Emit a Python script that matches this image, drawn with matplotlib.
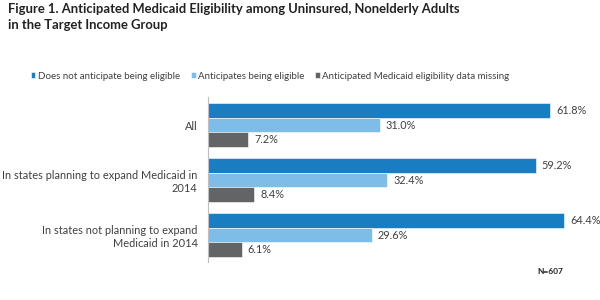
import matplotlib
matplotlib.use("Agg")
import matplotlib.pyplot as plt
import numpy as np

plt.rcParams['font.family'] = ['Lato', 'DejaVu Sans']

categories = ["All",
              "In states planning to expand Medicaid in\n2014",
              "In states not planning to expand\nMedicaid in 2014"]
series_names = ["Does not anticipate being eligible",
                "Anticipates being eligible",
                "Anticipated Medicaid eligibility data missing"]
not_eligible = [61.8, 59.2, 64.4]
eligible = [31.0, 32.4, 29.6]
missing = [7.2, 8.4, 6.1]
colors = ["#1a7dc2", "#7dbde8", "#636466"]

fig = plt.figure(figsize=(6, 3), dpi=100)
ax = fig.add_axes([208/600, 38/300, 387.4/600, 165/300])

y = np.arange(len(categories))
h = 0.267
for i, (vals, c, name) in enumerate(zip([not_eligible, eligible, missing], colors, series_names)):
    pos = y + (i - 1) * h
    ax.barh(pos, vals, height=h, color=c, label=name, edgecolor='white', linewidth=0.4)
    for p, v in zip(pos, vals):
        ax.text(v + 1.1, p, f"{v:.1f}%", va='center', ha='left', fontsize=7.8, color='#404040')

ax.set_xlim(0, 70)
ax.set_ylim(2.49, -0.51)
ax.set_yticks(y)
ax.set_yticklabels(categories, fontsize=7.9, color='#404040', linespacing=1.25)
ax.tick_params(axis='y', length=0, pad=7.5)
ax.set_xticks([])
for s in ['top', 'right', 'bottom']:
    ax.spines[s].set_visible(False)
ax.spines['left'].set_color('#bfbfbf')
ax.spines['left'].set_linewidth(0.8)

fig.text(8/600, 1 - 17/300, "Figure 1. Anticipated Medicaid Eligibility among Uninsured, Nonelderly Adults\nin the Target Income Group",
         fontsize=9.4, fontweight='bold', color='#222222', va='center', ha='left', linespacing=1.35)

handles, labels = ax.get_legend_handles_labels()
leg = fig.legend(handles, labels, loc='center', bbox_to_anchor=(270/600, 1 - 76/300), ncol=3,
                 frameon=False, fontsize=7.0, handlelength=0.5, handleheight=0.5,
                 handletextpad=0.25, columnspacing=1.1)
for t in leg.get_texts():
    t.set_color('#404040')

fig.text(550/600, 1 - 272/300, "N=607", fontsize=6, fontweight='bold', ha='center', va='center', color='#222222')

fig.savefig("out.png", dpi=100)
